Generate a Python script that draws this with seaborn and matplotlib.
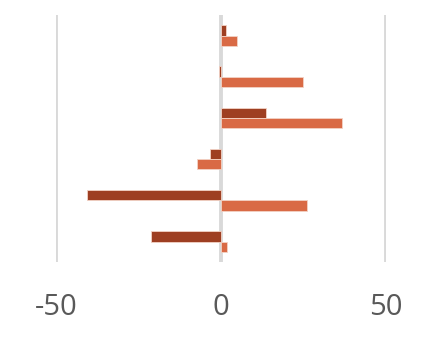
import matplotlib
matplotlib.use("Agg")
import matplotlib.pyplot as plt
import seaborn as sns
import pandas as pd

categories = ["A", "B", "C", "D", "E", "F"]
series_names = ["Series 1", "Series 2"]
series1 = [1.5, -0.6, 13.7, -3.4, -40.6, -21.2]
series2 = [5.0, 25.0, 36.8, -7.3, 26.2, 1.9]
x_ticks = [-50, 0, 50]
colors = ["#9E3F22", "#D96A45"]

df = pd.DataFrame({
    "category": categories * 2,
    "series": [series_names[0]] * len(categories) + [series_names[1]] * len(categories),
    "value": series1 + series2,
})

sns.set_style("white")
plt.rcParams["font.family"] = ["Open Sans", "DejaVu Sans"]

fig = plt.figure(figsize=(4.26, 3.4), dpi=100)
ax = fig.add_axes([0.131, 0.229, 0.775, 0.727])

sns.barplot(data=df, y="category", x="value", hue="series", order=categories,
            hue_order=series_names, palette=colors, saturation=1, orient="h",
            width=0.5, edgecolor="#F3D3C6", linewidth=0.6, legend=False, ax=ax)

ax.set_xlim(-50, 50)
ax.set_xticks(x_ticks)
ax.set_xticklabels([str(t) for t in x_ticks])
ax.set_yticks([])
ax.set_xlabel("")
ax.set_ylabel("")
ax.grid(axis="x", color="#D9D9D9", linewidth=2.8)
ax.set_axisbelow(True)
for s in ax.spines.values():
    s.set_visible(False)
ax.tick_params(axis="x", length=0, pad=22, labelsize=21, labelcolor="#595959")

fig.savefig("out.png", dpi=100)
